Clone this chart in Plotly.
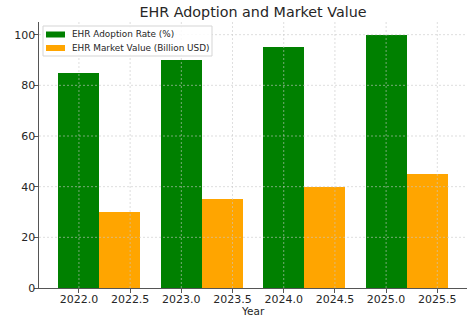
import plotly.graph_objects as go

years = [2022, 2023, 2024, 2025]
adoption = [85, 90, 95, 100]
market = [30, 35, 40, 45]
labels = ["EHR Adoption Rate (%)", "EHR Market Value (Billion USD)"]
colors = ["green", "orange"]
xticks = [2022.0, 2022.5, 2023.0, 2023.5, 2024.0, 2024.5, 2025.0, 2025.5]
yticks = [0, 20, 40, 60, 80, 100]
width = 0.4

W, H = 474, 323
ML, MR, MT, MB = 39, 7, 22, 35
PW, PH = W - ML - MR, H - MT - MB

fig = go.Figure()
fig.add_trace(go.Bar(x=years, y=adoption, width=width, name=labels[0],
                     marker=dict(color=colors[0], line=dict(width=0)), showlegend=False))
fig.add_trace(go.Bar(x=[y + width for y in years], y=market, width=width, name=labels[1],
                     marker=dict(color=colors[1], line=dict(width=0)), showlegend=False))

xmin, xmax = years[0] - width / 2, years[-1] + width * 1.5
pad = (xmax - xmin) * 0.05
xr = [xmin - pad, xmax + pad]
yr = [0, max(adoption) * 1.05]

gridline = dict(color="rgba(200,200,200,0.75)", width=0.8, dash="2px,2px")
for t in xticks:
    fig.add_shape(type="line", xref="x", yref="paper", x0=t, x1=t, y0=0, y1=1,
                  line=gridline, layer="above")
for t in yticks[1:]:
    fig.add_shape(type="line", xref="paper", yref="y", x0=0, x1=1, y0=t, y1=t,
                  line=gridline, layer="above")

# manual legend (matplotlib style)
def px(x):
    return (x - ML) / PW

def py(y):
    return (H - MB - y) / PH

fig.add_shape(type="rect", xref="paper", yref="paper", x0=px(43), x1=px(212), y0=py(56), y1=py(26),
              line=dict(color="#d5d5d5", width=1), fillcolor="rgba(255,255,255,0.85)", layer="above")
for i, (lab, c) in enumerate(zip(labels, colors)):
    yc = 34.5 + i * 13.5
    fig.add_shape(type="rect", xref="paper", yref="paper", x0=px(46), x1=px(65),
                  y0=py(yc + 3), y1=py(yc - 3), line=dict(width=0), fillcolor=c, layer="above")
    fig.add_annotation(xref="paper", yref="paper", x=px(70), y=py(yc), text=lab, showarrow=False,
                       xanchor="left", yanchor="middle", font=dict(size=8.9, color="#262626"))

# x-axis title
fig.add_annotation(xref="paper", yref="paper", x=0.5, y=py(311), text="Year", showarrow=False,
                   xanchor="center", yanchor="middle", font=dict(size=10.5, color="#262626"))

font = "DejaVu Sans"
fig.update_layout(
    width=W, height=H,
    margin=dict(l=ML, r=MR, t=MT, b=MB),
    barmode="overlay", bargap=0,
    plot_bgcolor="white", paper_bgcolor="white",
    font=dict(family=font, size=11, color="#262626"),
    title=dict(text="EHR Adoption and Market Value", xref="paper", x=0.5, xanchor="center",
               y=0.962, yanchor="middle", font=dict(size=14.3, color="#262626")),
    showlegend=False,
    xaxis=dict(range=xr, tickvals=xticks, ticktext=[f"{t:.1f}" for t in xticks],
               showgrid=False, zeroline=False, showline=True, linecolor="#555", linewidth=1.2,
               ticks="outside", ticklen=3.5, tickcolor="#555", ticklabelstandoff=-3),
    yaxis=dict(range=yr, tickvals=yticks, showgrid=False, zeroline=False,
               showline=True, linecolor="#555", linewidth=1.2,
               ticks="outside", ticklen=3.5, tickcolor="#555", ticklabelstandoff=-3),
)

fig.write_html("out.html")
